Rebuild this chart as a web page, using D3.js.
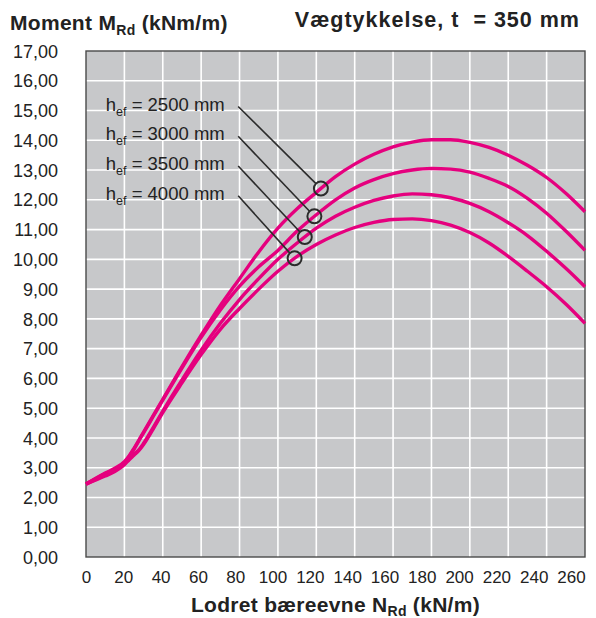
<!DOCTYPE html>
<html>
<head>
<meta charset="utf-8">
<script src="https://cdn.jsdelivr.net/npm/d3@7"></script>
<style>
body { margin: 0; background: #fff; }
svg { display: block; font-family: "Liberation Sans", Arial, Helvetica, sans-serif; }
</style>
</head>
<body>
<svg id="chart" width="596" height="618"></svg>
<script>
// lodret baereevne N_Rd (kN/m)
var nValues = [0, 10, 15, 20, 22.5, 25, 27.5, 30, 35, 40, 50, 60, 70, 80, 90, 100, 110, 120, 130, 140, 150, 160, 170, 180, 190, 200, 210, 220, 230, 240, 250, 260];
// moment M_Rd (kNm/m) per h_ef
var m2500 = [2.45, 2.82, 2.98, 3.2, 3.4, 3.65, 3.92, 4.2, 4.75, 5.3, 6.4, 7.45, 8.45, 9.35, 10.25, 11.05, 11.7, 12.25, 12.78, 13.2, 13.53, 13.78, 13.94, 14.02, 14.02, 13.93, 13.76, 13.5, 13.16, 12.75, 12.22, 11.6];
var m3000 = [2.45, 2.8, 2.95, 3.18, 3.38, 3.62, 3.9, 4.17, 4.72, 5.27, 6.35, 7.38, 8.3, 9.1, 9.75, 10.3, 10.95, 11.5, 12.0, 12.4, 12.68, 12.88, 13.0, 13.05, 13.03, 12.93, 12.72, 12.45, 12.05, 11.55, 10.95, 10.3];
var m3500 = [2.45, 2.76, 2.9, 3.13, 3.3, 3.45, 3.6, 3.82, 4.35, 4.9, 5.95, 6.95, 7.85, 8.65, 9.35, 10.0, 10.55, 11.05, 11.45, 11.75, 11.98, 12.13, 12.2, 12.17, 12.07, 11.88, 11.6, 11.23, 10.8, 10.27, 9.7, 9.08];
var m4000 = [2.45, 2.72, 2.87, 3.1, 3.27, 3.42, 3.57, 3.78, 4.3, 4.85, 5.85, 6.8, 7.65, 8.35, 9.0, 9.6, 10.1, 10.5, 10.82, 11.07, 11.24, 11.34, 11.36, 11.3, 11.15, 10.9, 10.55, 10.1, 9.6, 9.08, 8.5, 7.85];
var seriesNames = ["2500", "3000", "3500", "4000"];
var seriesValues = [m2500, m3000, m3500, m4000];
// annotation: where each label points on its curve, and the M level of its text
var markerN = [122.4, 119, 114, 108.7];
var labelM = [15, 14, 13, 12];
var xTicks = d3.range(0, 261, 20);
var yTicks = d3.range(0, 17.01, 1);

var svg = d3.select("#chart");
var margin = { left: 86, right: 11, top: 51, bottom: 61 };
var W = 596, H = 618;
var x = d3.scaleLinear().domain([0, 260]).range([margin.left, W - margin.right]);
var y = d3.scaleLinear().domain([0, 17]).range([H - margin.bottom, margin.top]);
// the printed tick numbers run a little tighter than the grid
var xLab = d3.scaleLinear().domain([0, 260]).range([margin.left, 571]);
var pink = "#e5007e";
var dk = "#2b2b2b";

var comma = d3.formatLocale({ decimal: ",", thousands: ".", grouping: [3], currency: ["", ""] }).format(".2f");

svg.append("rect").attr("x", x(0)).attr("y", y(17)).attr("width", x(260) - x(0)).attr("height", y(0) - y(17)).attr("fill", "#c7c8ca");

var grid = svg.append("g");
grid.selectAll("line.v").data(xTicks.slice(1, -1)).join("line").attr("x1", x).attr("x2", x).attr("y1", y(0)).attr("y2", y(17)).attr("stroke", "#fff").attr("stroke-width", 1.6);
grid.selectAll("line.h").data(yTicks.slice(1, -1)).join("line").attr("y1", y).attr("y2", y).attr("x1", x(0)).attr("x2", x(260)).attr("stroke", "#fff").attr("stroke-width", 1.6);

svg.append("rect").attr("x", x(0)).attr("y", y(17)).attr("width", x(260) - x(0)).attr("height", y(0) - y(17)).attr("fill", "none").attr("stroke", "#4a4a4a").attr("stroke-width", 1.4);

var yAxis = svg.append("g").attr("transform", "translate(" + (x(0) - 28) + ",0)")
	.call(d3.axisLeft(y).tickValues(yTicks).tickSize(0).tickPadding(0).tickFormat(comma));
yAxis.select(".domain").remove();
yAxis.selectAll("text").attr("font-size", 18).attr("font-family", null).attr("fill", "#222").attr("dy", "0.34em");

var xAxis = svg.append("g").attr("transform", "translate(0," + y(0) + ")")
	.call(d3.axisBottom(xLab).tickValues(xTicks).tickSize(0).tickPadding(14));
xAxis.select(".domain").remove();
xAxis.selectAll("text").attr("font-size", 17).attr("font-family", null).attr("fill", "#222");

var line = d3.line().x(function (d) { return x(d[0]); }).y(function (d) { return y(d[1]); }).curve(d3.curveMonotoneX);
var curves = seriesValues.map(function (vals) {
	return nValues.map(function (n, i) { return [n, vals[i]]; });
});
svg.append("g").selectAll("path").data(curves).join("path")
	.attr("d", line).attr("fill", "none").attr("stroke", pink).attr("stroke-width", 3.4).attr("stroke-linejoin", "round");

function valueAt(vals, n) {
	var i = d3.bisectRight(nValues, n) - 1;
	var t = (n - nValues[i]) / (nValues[i + 1] - nValues[i]);
	return vals[i] + t * (vals[i + 1] - vals[i]);
}

var ann = svg.append("g");
seriesNames.forEach(function (name, i) {
	var by = y(labelM[i]);
	var t = ann.append("text").attr("x", x(10.3)).attr("y", by).attr("font-size", 18.5).attr("fill", "#222");
	t.append("tspan").text("h");
	t.append("tspan").attr("font-size", 12.5).attr("dy", 5).text("ef");
	t.append("tspan").attr("dy", -5).text(" = " + name + " mm");
	var cx = x(markerN[i]), cy = y(valueAt(seriesValues[i], markerN[i]));
	var sx = x(79.3), sy = by - 4;
	var len = Math.hypot(cx - sx, cy - sy), r = 7;
	ann.append("line").attr("x1", sx).attr("y1", sy)
		.attr("x2", cx - (cx - sx) * r / len).attr("y2", cy - (cy - sy) * r / len)
		.attr("stroke", dk).attr("stroke-width", 1.6);
	ann.append("circle").attr("cx", cx).attr("cy", cy).attr("r", r).attr("fill", "none").attr("stroke", dk).attr("stroke-width", 2);
});

var t1 = svg.append("text").attr("x", 10).attr("y", 30).attr("font-size", 21).attr("font-weight", "bold").attr("fill", "#222").attr("letter-spacing", 0.3);
t1.append("tspan").text("Moment M");
t1.append("tspan").attr("font-size", 14).attr("dy", 5).text("Rd");
t1.append("tspan").attr("dy", -5).text(" (kNm/m)");

svg.append("text").attr("x", 580).attr("y", 27).attr("text-anchor", "end").attr("font-size", 21.5).attr("font-weight", "bold").attr("fill", "#222")
	.attr("letter-spacing", 1).attr("xml:space", "preserve").text("Vægtykkelse, t  = 350 mm");

var t3 = svg.append("text").attr("x", (x(0) + x(260)) / 2).attr("y", 612).attr("text-anchor", "middle").attr("font-size", 21).attr("font-weight", "bold").attr("fill", "#222").attr("letter-spacing", 0.3);
t3.append("tspan").text("Lodret bæreevne N");
t3.append("tspan").attr("font-size", 14).attr("dy", 4).text("Rd");
t3.append("tspan").attr("dy", -4).text(" (kN/m)");
</script>
</body>
</html>
